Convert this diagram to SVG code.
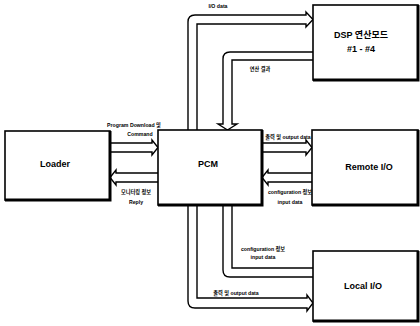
<svg xmlns="http://www.w3.org/2000/svg" width="420" height="326" viewBox="0 0 420 326">
<style>
.box{fill:#fff;stroke:#000;stroke-width:1.6}
.sh{fill:none;stroke:#000;stroke-width:3}
.pipe{fill:#fff;stroke:#000;stroke-width:1.4;stroke-linejoin:miter}
.ln{fill:none;stroke:#000;stroke-width:1.4}
.t{font-family:"Liberation Sans","Noto Sans CJK KR",sans-serif;font-weight:bold;fill:#000;text-anchor:middle}
.big{font-size:9px}
.sm{font-size:5.2px}
</style>
<rect width="420" height="326" fill="#fff"/>
<g id="connectors">
  <path class="pipe" d="M188,130 V22 Q188,15 195,15 H306 V12 L313,19.5 L306,27 V24 H197 V130"/>
  <path class="pipe" d="M313,52 H230 Q223,52 223,59 V124 H218 L227.5,130 L237,124 H232 V60 H313"/>
  <path class="pipe" d="M110,143 H152 V140 L158,147.5 L152,155 V152 H110"/>
  <path class="pipe" d="M158,173 H116 V170 L110,177.5 L116,185 V182 H158"/>
  <path class="pipe" d="M262,143 H306 V140 L312,147.5 L306,155 V152 H262"/>
  <path class="pipe" d="M312,173 H268 V170 L262,177.5 L268,185 V182 H312"/>
  <path class="ln" d="M223,205 V270 Q223,277 230,277 H313"/>
  <path class="ln" d="M232,205 V268 H313"/>
  <path class="pipe" d="M188,205 V301 Q188,308 195,308 H307 V311 L313,303 L307,295 V298 H197 V205"/>
  <text class="t sm" x="218" y="8">I/O data</text>
  <text class="t sm" x="260" y="71">연산 결과</text>
  <text class="t sm" x="134" y="127">Program Download 및</text>
  <text class="t sm" x="140" y="136">Command</text>
  <text class="t sm" x="136" y="194">모니터링 정보</text>
  <text class="t sm" x="136" y="204">Reply</text>
  <text class="t sm" x="288" y="139">출력 및 output data</text>
  <text class="t sm" x="290" y="194">configuration 정보</text>
  <text class="t sm" x="290" y="204">input data</text>
  <text class="t sm" x="263" y="251">configuration 정보</text>
  <text class="t sm" x="263" y="259">input data</text>
  <text class="t sm" x="236" y="295">출력 및 output data</text>
</g>
<g id="dsp">
  <rect class="box" x="313" y="5" width="105" height="75"/>
  <path class="sh" d="M313,80 H418 V5"/>
  <text class="t big" x="361" y="38">DSP 연산모드</text>
  <text class="t big" x="361" y="52">#1 - #4</text>
</g>
<g id="loader">
  <rect class="box" x="5" y="131" width="105" height="69"/>
  <path class="sh" d="M5,200 H110 V131"/>
  <text class="t big" x="55" y="167">Loader</text>
</g>
<g id="pcm">
  <rect class="box" x="158" y="130" width="104" height="75"/>
  <path class="sh" d="M158,205 H262 V130"/>
  <text class="t big" x="208" y="167">PCM</text>
</g>
<g id="remote">
  <rect class="box" x="312" y="130" width="106" height="75"/>
  <path class="sh" d="M312,205 H418 V130"/>
  <text class="t big" x="369" y="170">Remote I/O</text>
</g>
<g id="local">
  <rect class="box" x="313" y="251" width="105" height="70"/>
  <path class="sh" d="M313,321 H418 V251"/>
  <text class="t big" x="363" y="289">Local I/O</text>
</g>
</svg>
